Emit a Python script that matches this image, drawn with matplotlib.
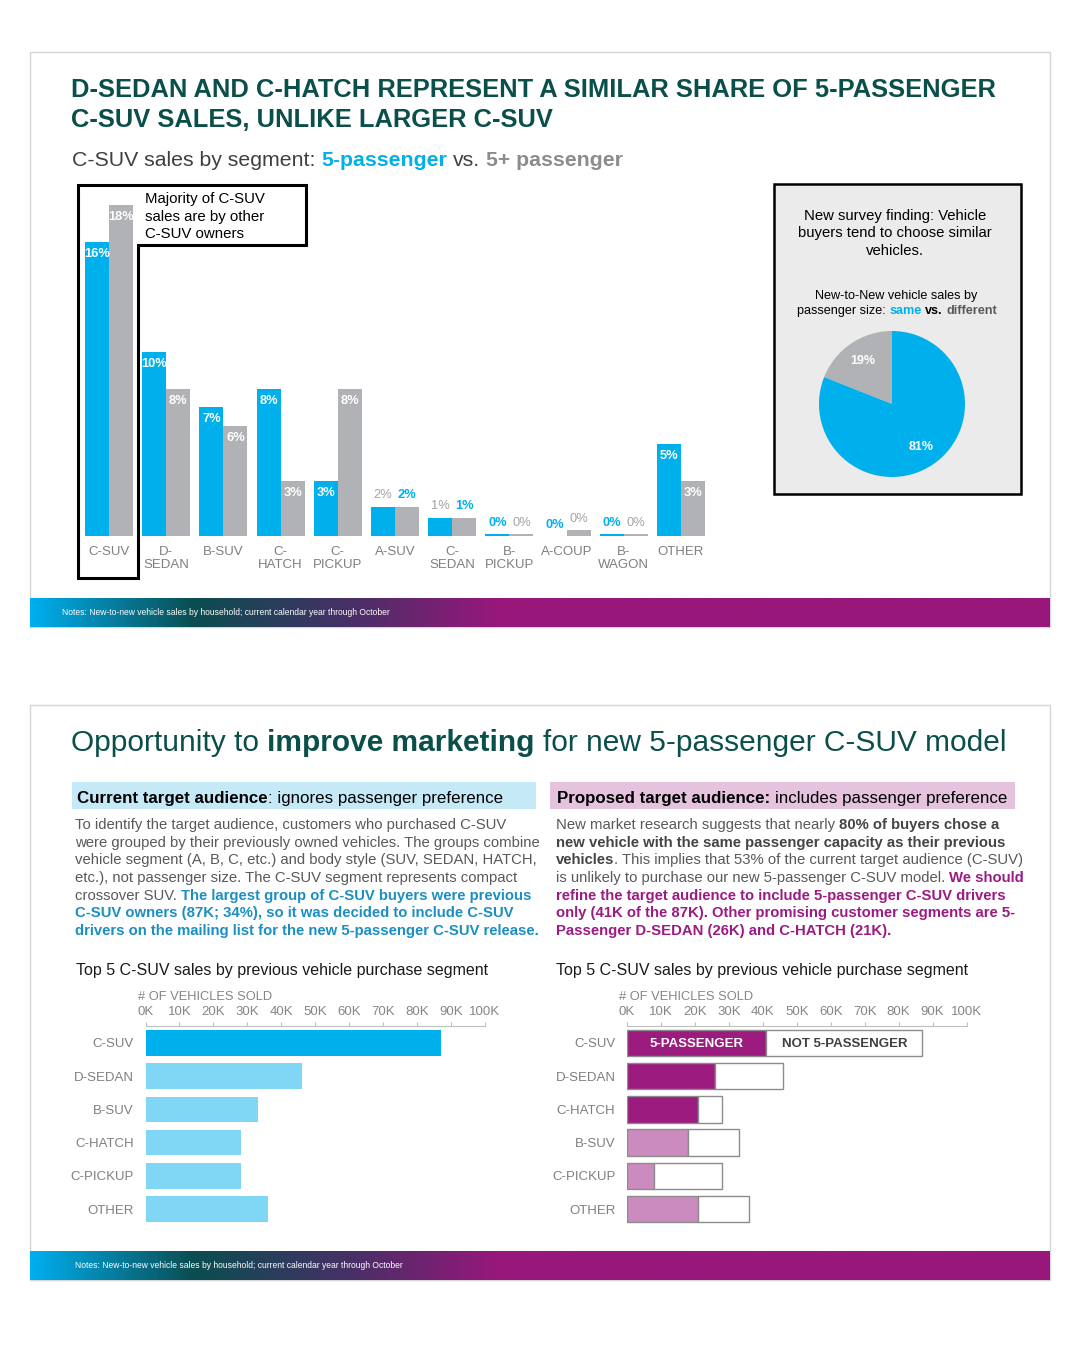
import numpy as np
import matplotlib
matplotlib.use("Agg")
import matplotlib.pyplot as plt
from matplotlib.colors import LinearSegmentedColormap
from matplotlib.font_manager import FontProperties
from matplotlib.patches import Rectangle, Polygon

plt.rcParams["font.family"] = ["Liberation Sans", "DejaVu Sans"]

# ---------------------------------------------------------
# Data
# ---------------------------------------------------------
segments = ["C-SUV", "D-\nSEDAN", "B-SUV", "C-\nHATCH", "C-\nPICKUP", "A-SUV",
            "C-\nSEDAN", "B-\nPICKUP", "A-COUP", "B-\nWAGON", "OTHER"]
share_5p = [16, 10, 7, 8, 3, 1.6, 1.0, 0.1, 0.0, 0.1, 5]       # % of C-SUV sales
share_5plus = [18, 8, 6, 3, 8, 1.6, 1.0, 0.1, 0.3, 0.1, 3]
swapped_labels = ["A-SUV", "C-\nSEDAN"]   # label colours swapped in the source

pie_labels = ["different", "same"]
pie_values = [19, 81]

prev_segments = ["C-SUV", "D-SEDAN", "B-SUV", "C-HATCH", "C-PICKUP", "OTHER"]
sold_5p = [41, 26, 18, 21, 8, 21]          # thousands of vehicles
sold_not5p = [46, 20, 15, 7, 20, 15]
right_order = ["C-SUV", "D-SEDAN", "C-HATCH", "B-SUV", "C-PICKUP", "OTHER"]
right_highlight = ["C-SUV", "D-SEDAN", "C-HATCH"]
x_ticks = list(range(0, 101, 10))

# ---------------------------------------------------------
# Colours
# ---------------------------------------------------------
TEAL = "#0B4F4B"
BLUE = "#00B0EC"
LIGHT_BLUE = "#80D6F5"
GRAY = "#B1B2B5"
GRAY_TXT = "#A3A3A3"
AXIS_TXT = "#858585"
BODY = "#595959"
BODY_BLUE = "#1B8EC2"
PURPLE = "#9B1B7E"
PURPLE_TXT = "#9B1B82"
LIGHT_PURPLE = "#CC8BBE"

W, H = 1080, 1350
fig = plt.figure(figsize=(W / 100, H / 100), dpi=100)
renderer = fig.canvas.get_renderer()


def px_axes(x, y, w, h, **kw):
    return fig.add_axes([x / W, 1 - (y + h) / H, w / W, h / H], **kw)


bg = px_axes(0, 0, W, H, zorder=0)
fg = px_axes(0, 0, W, H, zorder=10)
for a in (bg, fg):
    a.set_xlim(0, W)
    a.set_ylim(H, 0)
    a.axis("off")


def seg_metrics(s, size, weight):
    prop = FontProperties(family=["Liberation Sans"], size=size, weight=weight)

    def w(t):
        return renderer.get_text_width_height_descent(t, prop, ismath=False)[0]

    space = w("a a") - w("aa")
    core = s.strip(" ")
    lead = len(s) - len(s.lstrip(" "))
    trail = len(s) - len(s.rstrip(" "))
    return lead * space, (w(core) if core else 0), trail * space


def rich(x, y, parts, size, ha="left"):
    metrics = [seg_metrics(t, size, wt) for t, c, wt in parts]
    total = sum(a + b + c for a, b, c in metrics)
    if ha == "center":
        x -= total / 2
    for (t, c, wt), (a, b, d) in zip(parts, metrics):
        x += a
        if t.strip():
            fg.text(x, y, t.strip(" "), color=c, fontsize=size, fontweight=wt,
                    va="baseline", ha="left")
        x += b + d


# ---------------------------------------------------------
# Cards and footers
# ---------------------------------------------------------
for y0 in (52, 705):
    bg.add_patch(Rectangle((30, y0), 1020, 575, fill=False, ec="#D6D6D6", lw=1))

grad = LinearSegmentedColormap.from_list(
    "footer", [(0, "#00AEEF"), (0.16, "#0B4D50"), (0.31, "#463066"),
               (0.46, "#98177B"), (1, "#98177B")])
for y0 in (598, 1251):
    bg.imshow(np.linspace(0, 1, 512)[None, :], cmap=grad, aspect="auto",
              extent=(30, 1050, y0 + 29, y0), zorder=1)
bg.set_xlim(0, W)
bg.set_ylim(H, 0)

note = "Notes: New-to-new vehicle sales by household; current calendar year through October"
fg.text(62, 615, note, color="white", fontsize=6.15, va="baseline")
fg.text(75, 1268, note, color="white", fontsize=6.15, va="baseline")

# ---------------------------------------------------------
# Top panel
# ---------------------------------------------------------
fg.text(71, 97, "D-SEDAN AND C-HATCH REPRESENT A SIMILAR SHARE OF 5-PASSENGER",
        color=TEAL, fontsize=18.4, fontweight="bold", va="baseline")
fg.text(71, 127, "C-SUV SALES, UNLIKE LARGER C-SUV",
        color=TEAL, fontsize=18.4, fontweight="bold", va="baseline")
rich(72, 166, [("C-SUV sales by segment: ", "#404040", "normal"),
               ("5-passenger", BLUE, "bold"),
               (" vs. ", "#404040", "normal"),
               ("5+ passenger", "#8C8C8C", "bold")], 15.3)

# grouped bars
ax1 = px_axes(80.4, 180, 629.2, 356)
x = np.arange(len(segments))
ax1.bar(x - 0.21, share_5p, width=0.42, color=BLUE, linewidth=0)
ax1.bar(x + 0.21, share_5plus, width=0.42, color=GRAY, linewidth=0)
ax1.set_xlim(-0.5, 10.5)
ax1.set_ylim(0, 356 / 18.38)
ax1.set_xticks(x)
ax1.set_xticklabels(segments, color="#7F7F7F", fontsize=9.5, linespacing=1.12)
ax1.tick_params(axis="x", length=0, pad=7.5)
ax1.set_yticks([])
for s in ax1.spines.values():
    s.set_visible(False)
ax1.patch.set_visible(False)

for i, seg in enumerate(segments):
    styles = [(BLUE, "bold"), (GRAY_TXT, "normal")]
    if seg in swapped_labels:
        styles = styles[::-1]
    for off, val, (col, wt) in zip((-0.21, 0.21), (share_5p[i], share_5plus[i]), styles):
        label = f"{val:.0f}%"
        if val >= 2.5:
            ax1.annotate(label, (i + off, val), xytext=(0, -12), textcoords="offset pixels",
                         ha="center", va="center", color="white", fontweight="bold", fontsize=9.3)
        else:
            ax1.annotate(label, (i + off, val), xytext=(0, 11.5), textcoords="offset pixels",
                         ha="center", va="center", color=col, fontweight=wt, fontsize=9.3)

# callout around C-SUV
fg.add_patch(Polygon([(78, 185), (306, 185), (306, 245), (138, 245), (138, 578), (78, 578)],
                     closed=True, fill=False, ec="black", lw=2.2))
for k, line in enumerate(["Majority of C-SUV", "sales are by other", "C-SUV owners"]):
    fg.text(145, 203.5 + k * 17.3, line, fontsize=10.8, color="black", va="baseline")

# survey box + pie
bg.add_patch(Rectangle((774, 184), 247, 310, fc="#EBEBEB", ec="none", zorder=2))
fg.add_patch(Rectangle((774, 184), 247, 310, fill=False, ec="black", lw=1.8))
for k, line in enumerate(["New survey finding: Vehicle", "buyers tend to choose similar", "vehicles."]):
    fg.text(895, 220 + k * 17.5, line, fontsize=10.7, color="black", ha="center", va="baseline")
fg.text(896, 299, "New-to-New vehicle sales by", fontsize=9.1, color="black",
        ha="center", va="baseline")
rich(897, 314, [("passenger size: ", "black", "normal"), ("same", BLUE, "bold"),
                (" vs.", "black", "bold"), (" different", "#595959", "bold")], 9.1, ha="center")

ax_pie = px_axes(819, 331, 146, 146)
ax_pie.pie(pie_values, colors=[GRAY, BLUE], startangle=90, counterclock=True,
           autopct=lambda p: f"{p:.0f}%", pctdistance=0.71,
           wedgeprops=dict(linewidth=0),
           textprops=dict(color="white", fontweight="bold", fontsize=9))
ax_pie.set_xlim(-1, 1)
ax_pie.set_ylim(-1, 1)
ax_pie.set_aspect("equal")

# ---------------------------------------------------------
# Bottom panel
# ---------------------------------------------------------
rich(71, 751, [("Opportunity to ", TEAL, "normal"), ("improve marketing", TEAL, "bold"),
               (" for new 5-passenger C-SUV model", TEAL, "normal")], 21.5)

bg.add_patch(Rectangle((72, 782), 464, 27, fc="#C6E9F8", ec="none", zorder=2))
bg.add_patch(Rectangle((550, 782), 465, 27, fc="#E5C3DE", ec="none", zorder=2))
rich(77, 803, [("Current target audience", "black", "bold"),
               (": ignores passenger preference", "black", "normal")], 12.2)
rich(557, 803, [("Proposed target audience:", "black", "bold"),
                (" includes passenger preference", "black", "normal")], 12.2)

left_body = [
    [("To identify the target audience, customers who purchased C-SUV", BODY, "normal")],
    [("were grouped by their previously owned vehicles. The groups combine", BODY, "normal")],
    [("vehicle segment (A, B, C, etc.) and body style (SUV, SEDAN, HATCH,", BODY, "normal")],
    [("etc.), not passenger size. The C-SUV segment represents compact", BODY, "normal")],
    [("crossover SUV. ", BODY, "normal"),
     ("The largest group of C-SUV buyers were previous", BODY_BLUE, "bold")],
    [("C-SUV owners (87K; 34%), so it was decided to include C-SUV", BODY_BLUE, "bold")],
    [("drivers on the mailing list for the new 5-passenger C-SUV release.", BODY_BLUE, "bold")],
]
right_body = [
    [("New market research suggests that nearly ", BODY, "normal"),
     ("80% of buyers chose a", "#444444", "bold")],
    [("new vehicle with the same passenger capacity as their previous", "#444444", "bold")],
    [("vehicles", "#444444", "bold"),
     (". This implies that 53% of the current target audience (C-SUV)", BODY, "normal")],
    [("is unlikely to purchase our new 5-passenger C-SUV model. ", BODY, "normal"),
     ("We should", PURPLE_TXT, "bold")],
    [("refine the target audience to include 5-passenger C-SUV drivers", PURPLE_TXT, "bold")],
    [("only (41K of the 87K). Other promising customer segments are 5-", PURPLE_TXT, "bold")],
    [("Passenger D-SEDAN (26K) and C-HATCH (21K).", PURPLE_TXT, "bold")],
]
for k, parts in enumerate(left_body):
    rich(75, 829 + k * 17.7, parts, 10.7)
for k, parts in enumerate(right_body):
    rich(556, 829 + k * 17.7, parts, 10.7)

chart_title = "Top 5 C-SUV sales by previous vehicle purchase segment"
for x0, xl in ((76, 138), (556, 619)):
    fg.text(x0, 975, chart_title, fontsize=11.5, color="#1A1A1A", va="baseline")
    fg.text(xl, 1000, "# OF VEHICLES SOLD", fontsize=9.3, color=AXIS_TXT, va="baseline")


def hbar_axes(x0):
    ax = px_axes(x0, 1026, 339.5, 200)
    ax.set_xlim(0, 100)
    ax.set_ylim(5.512, -0.512)
    ax.xaxis.tick_top()
    ax.set_xticks(x_ticks)
    ax.set_xticklabels([f"{v}K" for v in x_ticks])
    ax.tick_params(axis="x", colors="#BFBFBF", labelcolor=AXIS_TXT, length=3,
                   width=0.8, pad=2.5, labelsize=9.5)
    ax.tick_params(axis="y", length=0, pad=8.3, labelcolor="#7F7F7F", labelsize=9.5)
    for name, s in ax.spines.items():
        s.set_visible(name == "top")
    ax.spines["top"].set_color("#BFBFBF")
    ax.spines["top"].set_linewidth(0.8)
    ax.patch.set_visible(False)
    return ax


# left: current audience
axL = hbar_axes(145.5)
yl = np.arange(len(prev_segments))
left_cols = [BLUE if s == "C-SUV" else LIGHT_BLUE for s in prev_segments]
axL.barh(yl, sold_5p, height=0.77, color=left_cols, linewidth=0)
axL.barh(yl, sold_not5p, left=sold_5p, height=0.77, color=left_cols, linewidth=0)
axL.set_yticks(yl)
axL.set_yticklabels(prev_segments)

# right: proposed audience
axR = hbar_axes(627)
idx = [prev_segments.index(s) for s in right_order]
r5 = [sold_5p[i] for i in idx]
rn = [sold_not5p[i] for i in idx]
yr = np.arange(len(right_order))
right_cols = [PURPLE if s in right_highlight else LIGHT_PURPLE for s in right_order]
axR.barh(yr, r5, height=0.8, color=right_cols, edgecolor="#8C8C8C", linewidth=1)
axR.barh(yr, rn, left=r5, height=0.8, color="white", edgecolor="#8C8C8C", linewidth=1)
axR.set_yticks(yr)
axR.set_yticklabels(right_order)
axR.text(r5[0] / 2, 0.03, "5-PASSENGER", color="white", fontweight="bold",
         fontsize=9.5, ha="center", va="center")
axR.text(r5[0] + rn[0] / 2, 0.03, "NOT 5-PASSENGER", color="#404040", fontweight="bold",
         fontsize=9.5, ha="center", va="center")

fig.savefig("out.png", dpi=100)
plt.close(fig)
